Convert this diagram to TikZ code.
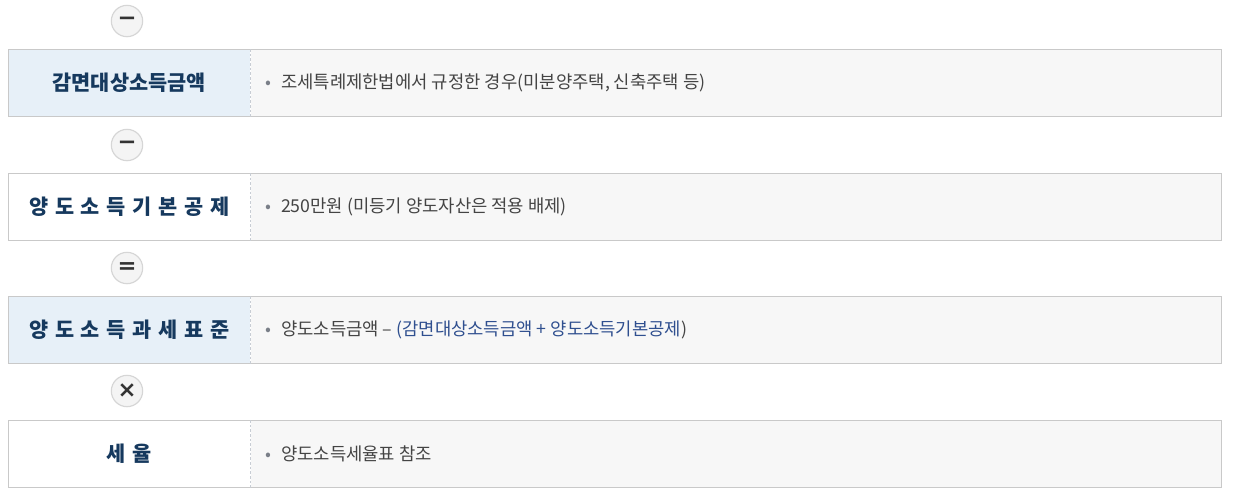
\documentclass[tikz,border=0pt]{standalone}
\usepackage{fontspec}
\setmainfont{Noto Sans CJK KR}
\newfontfamily\lblfont[WordSpace=1.4]{Noto Sans CJK KR}
\newfontfamily\symfont{DejaVu Sans}
\definecolor{navy}{HTML}{16395E}
\definecolor{bluebg}{HTML}{E7F0F8}
\definecolor{greybg}{HTML}{F7F7F7}
\definecolor{frame}{HTML}{C9C9C9}
\definecolor{divider}{HTML}{C8CDD4}
\definecolor{bodytext}{HTML}{444444}
\definecolor{linkblue}{HTML}{2F4F8F}
\definecolor{dotgrey}{HTML}{7A7F88}
\definecolor{opfill}{HTML}{F4F4F4}
\definecolor{opline}{HTML}{D6D6D6}
\definecolor{opsym}{HTML}{333333}
\begin{document}
\begin{tikzpicture}[x=0.75pt,y=-0.75pt,
  leftcell/.style={rectangle, anchor=north west, minimum width=181.5pt, minimum height=50.25pt, inner sep=0pt,
    font=\lblfont\bfseries\fontsize{15.6pt}{18pt}\selectfont, text=navy},
  rightcell/.style={rectangle, anchor=north west, fill=greybg, minimum width=727.5pt, minimum height=50.25pt, inner sep=0pt},
  desc/.style={anchor=west, inner sep=0pt, font=\fontsize{13.3pt}{15pt}\selectfont, text=bodytext},
  rowframe/.style={draw=frame, line width=0.75pt},
  divline/.style={draw=divider, dashed, dash pattern=on 2pt off 1.5pt, line width=0.6pt},
  opcircle/.style={circle, minimum size=23.5pt, inner sep=0pt, fill=opfill, draw=opline, line width=0.9pt,
    font=\symfont\bfseries\fontsize{17pt}{17pt}\selectfont, text=opsym}
]
\useasboundingbox (0,0) rectangle (1233,494);

\newcommand{\dotmark}{{\color{dotgrey}\fontsize{13pt}{13pt}\selectfont •}\hspace{7pt}}

% operators
\node[opcircle] (O1) at (127,21) {−};
\node[opcircle] (O2) at (127,145) {−};
\node[opcircle] (O3) at (127,268) {=};
\node[opcircle] (O4) at (127,391) {×};

% row 1
\node[leftcell, fill=bluebg] (L1) at (8,49) {감면대상소득금액};
\node[rightcell] (R1) at (L1.north east) {};
\draw[rowframe] (L1.north west) rectangle (R1.south east);
\draw[divline] (L1.north east) -- (L1.south east);
\node[desc] (T1) at ([xshift=11.3pt]R1.west) {\dotmark 조세특례제한법에서 규정한 경우(미분양주택, 신축주택 등)};

% row 2
\node[leftcell, fill=white] (L2) at (8,173) {양 도 소 득 기 본 공 제};
\node[rightcell] (R2) at (L2.north east) {};
\draw[rowframe] (L2.north west) rectangle (R2.south east);
\draw[divline] (L2.north east) -- (L2.south east);
\node[desc] (T2) at ([xshift=11.3pt]R2.west) {\dotmark 250만원 (미등기 양도자산은 적용 배제)};

% row 3
\node[leftcell, fill=bluebg] (L3) at (8,296) {양 도 소 득 과 세 표 준};
\node[rightcell] (R3) at (L3.north east) {};
\draw[rowframe] (L3.north west) rectangle (R3.south east);
\draw[divline] (L3.north east) -- (L3.south east);
\node[desc] (T3) at ([xshift=11.3pt]R3.west) {\dotmark 양도소득금액 – {\color{linkblue}(감면대상소득금액 + 양도소득기본공제})};

% row 4
\node[leftcell, fill=white] (L4) at (8,420) {세 율};
\node[rightcell] (R4) at (L4.north east) {};
\draw[rowframe] (L4.north west) rectangle (R4.south east);
\draw[divline] (L4.north east) -- (L4.south east);
\node[desc] (T4) at ([xshift=11.3pt]R4.west) {\dotmark 양도소득세율표 참조};
\end{tikzpicture}
\end{document}
